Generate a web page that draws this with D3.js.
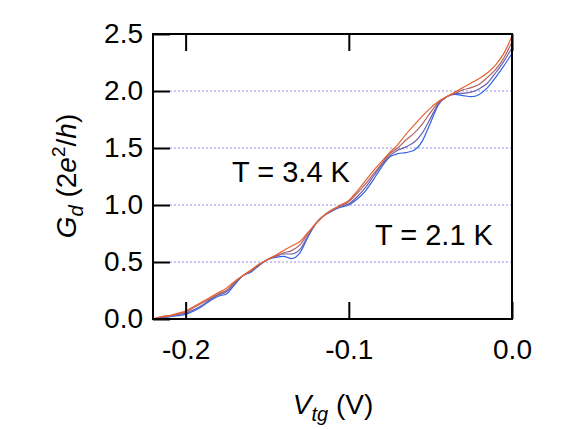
<!doctype html>
<html>
<head>
<meta charset="utf-8">
<script src="https://cdn.jsdelivr.net/npm/d3@7"></script>
<style>
  body { margin: 0; background: #fff; }
  text { font-family: "Liberation Sans", Arial, sans-serif; }
</style>
</head>
<body>
<svg id="chart" width="581" height="429"></svg>
<script>
// gate voltage grid (V)
var vtg = [-0.22, -0.215, -0.21, -0.205, -0.20, -0.195, -0.19, -0.185, -0.18, -0.175, -0.17, -0.165, -0.16, -0.155, -0.15,
  -0.145, -0.14, -0.135, -0.13, -0.125, -0.12, -0.115, -0.11, -0.105, -0.10, -0.095, -0.09, -0.085, -0.08, -0.075, -0.07,
  -0.065, -0.06, -0.055, -0.05, -0.045, -0.04, -0.035, -0.03, -0.025, -0.02, -0.015, -0.01, -0.005, 0];

// conductance curves, 2e^2/h, from coldest (2.1 K) to warmest (3.4 K)
var g21 = [0, .01, .02, .03, .04, .07, .11, .16, .20, .22, .30, .38, .41, .47, .52, .54, .55, .53, .58, .72, .84, .91, .95, .98,
  1.00, 1.05, 1.12, 1.22, 1.33, 1.42, 1.45, 1.46, 1.48, 1.56, 1.72, 1.88, 1.95, 1.97, 1.96, 1.95, 1.97, 2.03, 2.12, 2.22, 2.33];
var g25 = [0, .01, .02, .04, .05, .08, .12, .17, .21, .24, .31, .38, .42, .47, .52, .55, .57, .57, .61, .73, .84, .91, .95, .99,
  1.01, 1.07, 1.15, 1.25, 1.35, 1.43, 1.48, 1.51, 1.55, 1.63, 1.76, 1.89, 1.95, 1.98, 1.98, 1.99, 2.02, 2.07, 2.16, 2.26, 2.38];
var g29 = [0, .02, .03, .04, .06, .10, .14, .18, .22, .25, .32, .38, .42, .48, .52, .55, .58, .60, .65, .75, .84, .91, .96, .99,
  1.03, 1.10, 1.18, 1.27, 1.36, 1.45, 1.50, 1.57, 1.63, 1.71, 1.81, 1.90, 1.95, 1.98, 2.01, 2.03, 2.06, 2.12, 2.19, 2.29, 2.43];
var g34 = [0, .02, .03, .05, .07, .11, .15, .19, .23, .27, .33, .38, .43, .48, .52, .56, .60, .64, .68, .76, .84, .91, .96, 1.00,
  1.04, 1.12, 1.21, 1.30, 1.38, 1.46, 1.53, 1.62, 1.70, 1.78, 1.85, 1.91, 1.95, 1.99, 2.03, 2.07, 2.11, 2.16, 2.23, 2.33, 2.48];
var curves = [g21, g25, g29, g34];

var xTicks = [-0.2, -0.1, 0.0];
var yTicks = [0, 0.5, 1.0, 1.5, 2.0, 2.5];
var gridLevels = [0.5, 1.0, 1.5, 2.0];

var svg = d3.select('#chart');
var pL = 153, pR = 512, pT = 34, pB = 319;

var x = d3.scaleLinear().domain([-0.22, 0]).range([pL, pR]);
var y = d3.scaleLinear().domain([0, 2.5]).range([pB, pT]);
var color = d3.interpolateRgb('#2f62e8', '#e8602c');
var fmt = function (d) { return d3.format('.1f')(d).replace('\u2212', '-'); };

// dotted grid
svg.selectAll('line.grid').data(gridLevels).enter().append('line')
  .attr('x1', pL + 17).attr('x2', pR)
  .attr('y1', function (d) { return y(d); }).attr('y2', function (d) { return y(d); })
  .attr('stroke', '#9090f0').attr('stroke-width', 1).attr('stroke-dasharray', '2,2');

var line = d3.line()
  .x(function (d, i) { return x(vtg[i]); })
  .y(function (d) { return y(d); })
  .curve(d3.curveMonotoneX);

svg.append('g').selectAll('path').data(curves).enter().append('path')
  .attr('d', line).attr('fill', 'none')
  .attr('stroke', function (d, i) { return color(i / (curves.length - 1)); })
  .attr('stroke-width', 1.2);

// axes with inward ticks
svg.append('g').attr('transform', 'translate(0,' + pB + ')')
  .call(d3.axisBottom(x).tickValues(xTicks).tickSize(-17).tickPadding(12).tickFormat(fmt))
  .call(function (g) { g.select('.domain').remove(); g.selectAll('.tick text').attr('y', 20); });
svg.append('g').attr('transform', 'translate(0,' + pT + ')')
  .call(d3.axisTop(x).tickValues(xTicks).tickSize(-17).tickFormat(''))
  .call(function (g) { g.select('.domain').remove(); });
svg.append('g').attr('transform', 'translate(' + pL + ',0)')
  .call(d3.axisLeft(y).tickValues(yTicks).tickSize(-17).tickPadding(10).tickFormat(fmt))
  .call(function (g) { g.select('.domain').remove(); g.selectAll('.tick text').attr('x', -10); });

svg.selectAll('.tick line').attr('stroke', '#000').attr('stroke-width', 2);
svg.selectAll('.tick text').attr('font-size', 28).attr('fill', '#000')
  .attr('font-family', '"Liberation Sans", Arial, sans-serif');

svg.append('rect').attr('x', pL).attr('y', pT).attr('width', pR - pL).attr('height', pB - pT)
  .attr('fill', 'none').attr('stroke', '#000').attr('stroke-width', 2);

// labels
svg.append('text').attr('x', 232).attr('y', 182).attr('font-size', 29).text('T = 3.4 K');
svg.append('text').attr('x', 375).attr('y', 245).attr('font-size', 29).text('T = 2.1 K');

var xl = svg.append('text').attr('x', 333).attr('y', 414).attr('text-anchor', 'middle').attr('font-size', 28);
xl.append('tspan').attr('font-style', 'italic').text('V');
xl.append('tspan').attr('font-style', 'italic').attr('font-size', 20).attr('dy', 7).text('tg');
xl.append('tspan').attr('dy', -7).text(' (V)');

var yl = svg.append('text').attr('transform', 'translate(76,176) rotate(-90)')
  .attr('text-anchor', 'middle').attr('font-size', 28);
yl.append('tspan').attr('font-style', 'italic').text('G');
yl.append('tspan').attr('font-style', 'italic').attr('font-size', 20).attr('dy', 7).text('d');
yl.append('tspan').attr('dy', -7).text(' (2');
yl.append('tspan').attr('font-style', 'italic').text('e');
yl.append('tspan').attr('font-size', 19).attr('dy', -11).text('2');
yl.append('tspan').attr('dy', 11).text('/');
yl.append('tspan').attr('font-style', 'italic').text('h');
yl.append('tspan').text(')');
</script>
</body>
</html>
